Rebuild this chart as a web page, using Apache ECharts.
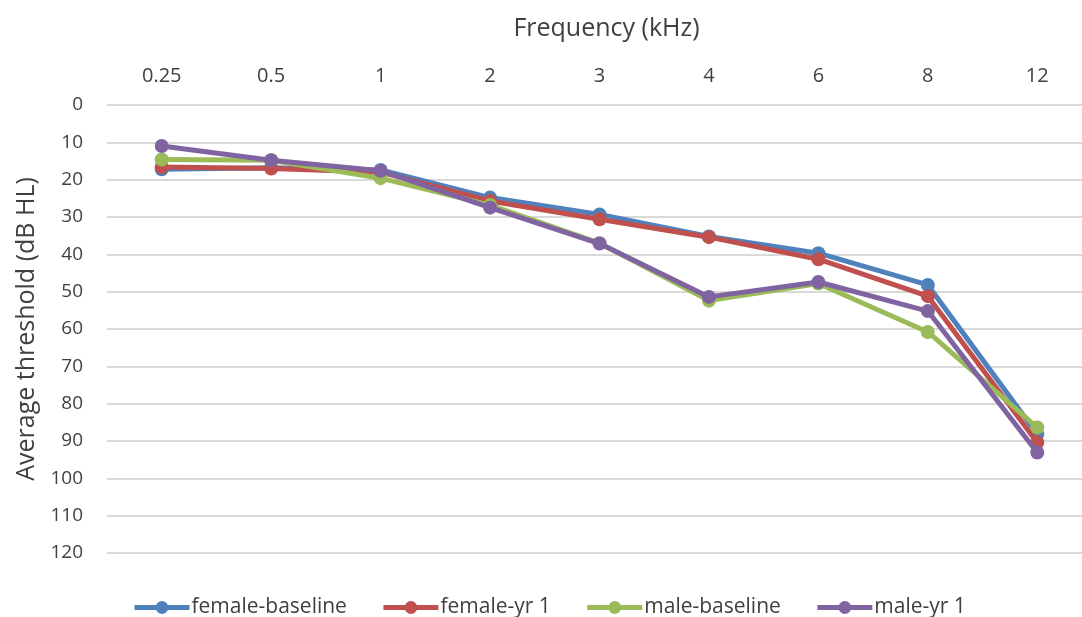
<!DOCTYPE html>
<html><head><meta charset="utf-8">
<script src="https://cdn.jsdelivr.net/npm/echarts@6/dist/echarts.min.js"></script>
<style>html,body{margin:0;padding:0;background:#fff;overflow:hidden;width:1082px;height:617px}#c{width:1092px;height:617px}</style>
</head><body><div id="c"></div>
<script>
const categories = ['0.25','0.5','1','2','3','4','6','8','12'];
const femaleBaseline = [17.2, 16.8, 17.4, 24.8, 29.3, 35.2, 39.7, 48.2, 88.2];
const femaleYr1 = [16.6, 17.0, 18.0, 25.7, 30.6, 35.4, 41.3, 51.2, 90.4];
const maleBaseline = [14.6, 14.8, 19.6, 26.8, 37.0, 52.4, 47.8, 60.8, 86.4];
const maleYr1 = [11.0, 14.8, 17.6, 27.5, 37.1, 51.4, 47.4, 55.2, 93.1];
const yTicks = [0,10,20,30,40,50,60,70,80,90,100,110,120];

const font = 'Open Sans, Liberation Sans, sans-serif';
const colors = ['#4F81BD','#C0504D','#9BBB59','#8064A2'];
function s(name, data, i){
  return {name, type:'line', data, symbol:'circle', symbolSize:14,
    lineStyle:{width:5,color:colors[i]}, itemStyle:{color:colors[i]}, z: 2+i};
}
const chart = echarts.init(document.getElementById('c'));
chart.setOption({
  animation:false,
  textStyle:{fontFamily:font},
  grid:{left:107, top:105, right:0, height:448},
  xAxis:{type:'category', data:categories, position:'top', boundaryGap:true,
    name:'Frequency (kHz)', nameLocation:'middle', nameGap:64,
    nameTextStyle:{fontSize:25, color:'#404040', fontFamily:font, padding:[0,0,0,14]},
    axisLine:{show:false}, axisTick:{show:false},
    axisLabel:{fontSize:20, color:'#404040', margin:19}},
  yAxis:{type:'value', inverse:true, min:0, max:120, interval:10,
    name:'Average threshold (dB HL)', nameLocation:'middle', nameGap:66,
    nameTextStyle:{fontSize:25, color:'#404040', fontFamily:font},
    axisLine:{show:false}, axisTick:{show:false},
    axisLabel:{fontSize:19, color:'#404040', margin:24,
      formatter:v=>yTicks.includes(v)?String(v):''},
    splitLine:{lineStyle:{color:'#D9D9D9', width:2}}},
  legend:{top:592, left:127, itemWidth:55, itemHeight:16, itemGap:34,
    lineStyle:{width:5},
    textStyle:{fontSize:21, color:'#404040', fontFamily:font, padding:[0,0,0,-3]}},
  series:[s('female-baseline',femaleBaseline,0), s('female-yr 1',femaleYr1,1),
    s('male-baseline',maleBaseline,2), s('male-yr 1',maleYr1,3)]
});
</script></body></html>
